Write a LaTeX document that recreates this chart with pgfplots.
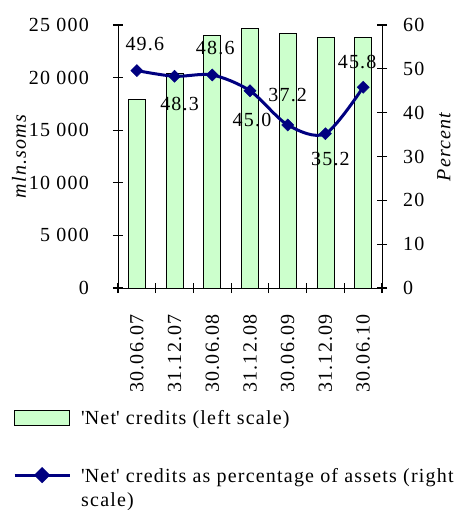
\documentclass[border=0pt]{standalone}
\usepackage{pgfplots}
\pgfplotsset{compat=1.18}
\usepackage{fontspec}
\setmainfont{Liberation Serif}[LetterSpace=6]
\definecolor{barfill}{RGB}{204,255,204}
\definecolor{navy}{RGB}{0,0,128}
\newcommand{\fs}{\fontsize{20}{24}\selectfont}

\begin{document}
\begin{tikzpicture}
\useasboundingbox (-118pt,-222pt) rectangle (343pt,288pt);
% bars, left scale; category names sit half a slot right of the boundary ticks
\begin{axis}[
  width=264pt, height=263pt, scale only axis,
  at={(0pt,0pt)}, anchor=south west,
  xmin=-0.5, xmax=6.5,
  axis y line*=left, axis x line*=bottom,
  ymin=0, ymax=25000, scaled y ticks=false,
  ytick={0,5000,...,25000},
  /pgf/number format/1000 sep={\ },
  /pgf/number format/assume math mode=true,
  xtick={-0.5,0.5,...,6.5},
  xticklabels={30.06.07,31.12.07,30.06.08,31.12.08,30.06.09,31.12.09,30.06.10,{}},
  xticklabel style={xshift=18.86pt, rotate=90, anchor=east, inner sep=0pt, inner xsep=21pt},
  tick align=center,
  major tick length=10pt,
  tick style={black, line width=1.2pt},
  ytick style={black, line width=1.2pt},
  tick label style={font=\fs},
  yticklabel style={anchor=east, inner sep=0pt, xshift=-24pt},
  ylabel={mln.soms},
  ylabel style={font=\fs\itshape, at={(axis description cs:-0.375,0.5)}, anchor=center},
]
\addplot[fill=barfill, draw=black, line width=0.8pt, ybar, bar width=17pt] coordinates {
  (0,17900) (1,20400) (2,24000) (3,24700) (4,24200) (5,23800) (6,23800)
};
\end{axis}
% share of assets, right scale
\begin{axis}[
  width=264pt, height=263pt, scale only axis,
  at={(0pt,0pt)}, anchor=south west,
  xmin=-0.5, xmax=6.5,
  axis y line*=right, axis x line*=bottom, xtick=\empty,
  ymin=0, ymax=60,
  ytick={0,10,...,60},
  /pgf/number format/assume math mode=true,
  tick align=center,
  major tick length=10pt,
  tick style={black, line width=1.2pt},
  ytick style={black, line width=1.2pt},
  tick label style={font=\fs},
  yticklabel style={anchor=west, inner sep=0pt, xshift=16pt},
  ylabel={Percent},
  ylabel style={font=\fs\itshape, at={(axis description cs:1.235,0.536)}, anchor=center},
  clip=false,
  legend style={at={(axis description cs:-0.3977,-0.457)}, anchor=north west,
    draw=none, fill=none, inner sep=0pt, font=\fs,
    row sep=36pt, column sep=8pt},
  legend cell align=left,
]
\addlegendimage{legend image code/.code={
  \draw[fill=barfill, draw=black, line width=0.8pt] (0pt,-7.5pt) rectangle (55pt,7.5pt);}}
\addlegendentry{\textquotesingle Net\textquotesingle{} credits (left scale)}
\addplot[navy, line width=3pt, smooth, tension=0.5,
  mark=square*, mark size=4.25pt, mark options={rotate=45, line width=0.5pt},
  legend image code/.code={
    \draw[navy, line width=3pt] (0pt,0pt) -- (55pt,0pt);
    \fill[navy] (27.5pt,6pt) -- (33.5pt,0pt) -- (27.5pt,-6pt) -- (21.5pt,0pt) -- cycle;},
  nodes near coords, point meta=explicit symbolic,
  visualization depends on={\thisrow{dx}\as\dx},
  visualization depends on={\thisrow{dy}\as\dy},
  every node near coord/.append style={anchor=center, text=black, font=\fs,
    xshift=\dx pt, yshift=\dy pt},
] table[x=x, y=y, meta=lab] {
x y lab dx dy
0 49.6 49.6 8 27
1 48.3 48.3 5 -28
2 48.6 48.6 3 27
3 45.0 45.0 2 -29
4 37.2 37.2 0 30
5 35.2 35.2 5 -25
6 45.8 45.8 -6 25
};
\addlegendentry{\begin{tabular}[t]{@{}l@{}}\textquotesingle Net\textquotesingle{} credits as percentage of assets (right\\scale)\end{tabular}}
\end{axis}
\end{tikzpicture}
\end{document}
